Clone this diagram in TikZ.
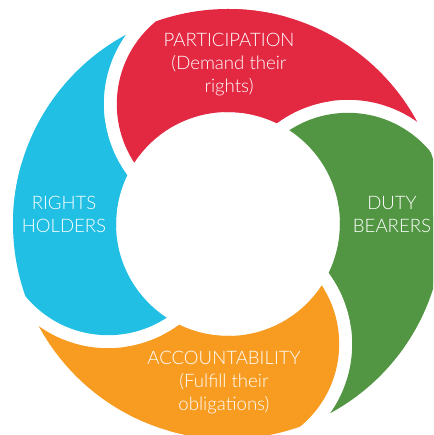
\documentclass[tikz,border=0pt]{standalone}
\usepackage{fontspec}
\setmainfont{Lato}[UprightFont={* Light}]
\definecolor{partred}{RGB}{227,41,66}
\definecolor{dutygreen}{RGB}{82,150,67}
\definecolor{accorange}{RGB}{247,155,33}
\definecolor{rightsblue}{RGB}{33,191,228}
\tikzset{
  seglabel/.style={text=white, align=center, inner sep=0pt,
    font=\fontsize{18.6}{23}\selectfont},
}
\begin{document}
\begin{tikzpicture}[x=1pt,y=1pt]
\useasboundingbox (-228,-211) rectangle (205,224);
\clip (-228,-211) rectangle (205,224);
% ring: outer 215, inner 112, bulge centres at 120
\foreach \ang/\col/\nxt in {92/partred/2, 2/dutygreen/-88,
    -88/accorange/-178, -178/rightsblue/-268}{
  \begin{scope}[even odd rule]
    \clip (0,0) circle (215) (0,0) circle (112);
    \clip (-300,-300) rectangle (300,300) (\nxt:120) circle (120);
    \fill[\col] (\ang:120) circle (107);
    \fill[\col] (0,0) -- (\nxt:300) arc (\nxt:\ang:300) -- cycle;
  \end{scope}
}
\node[seglabel] (participation) at (1,159) {PARTICIPATION\\(Demand their\\rights)};
\node[seglabel] (bearers) at (164,10) {DUTY\\BEARERS};
\node[seglabel] (accountability) at (-4,-159) {ACCOUNTABILITY\\(Fulfill their\\obligations)};
\node[seglabel] (holders) at (-164,10) {RIGHTS\\HOLDERS};
\end{tikzpicture}
\end{document}
